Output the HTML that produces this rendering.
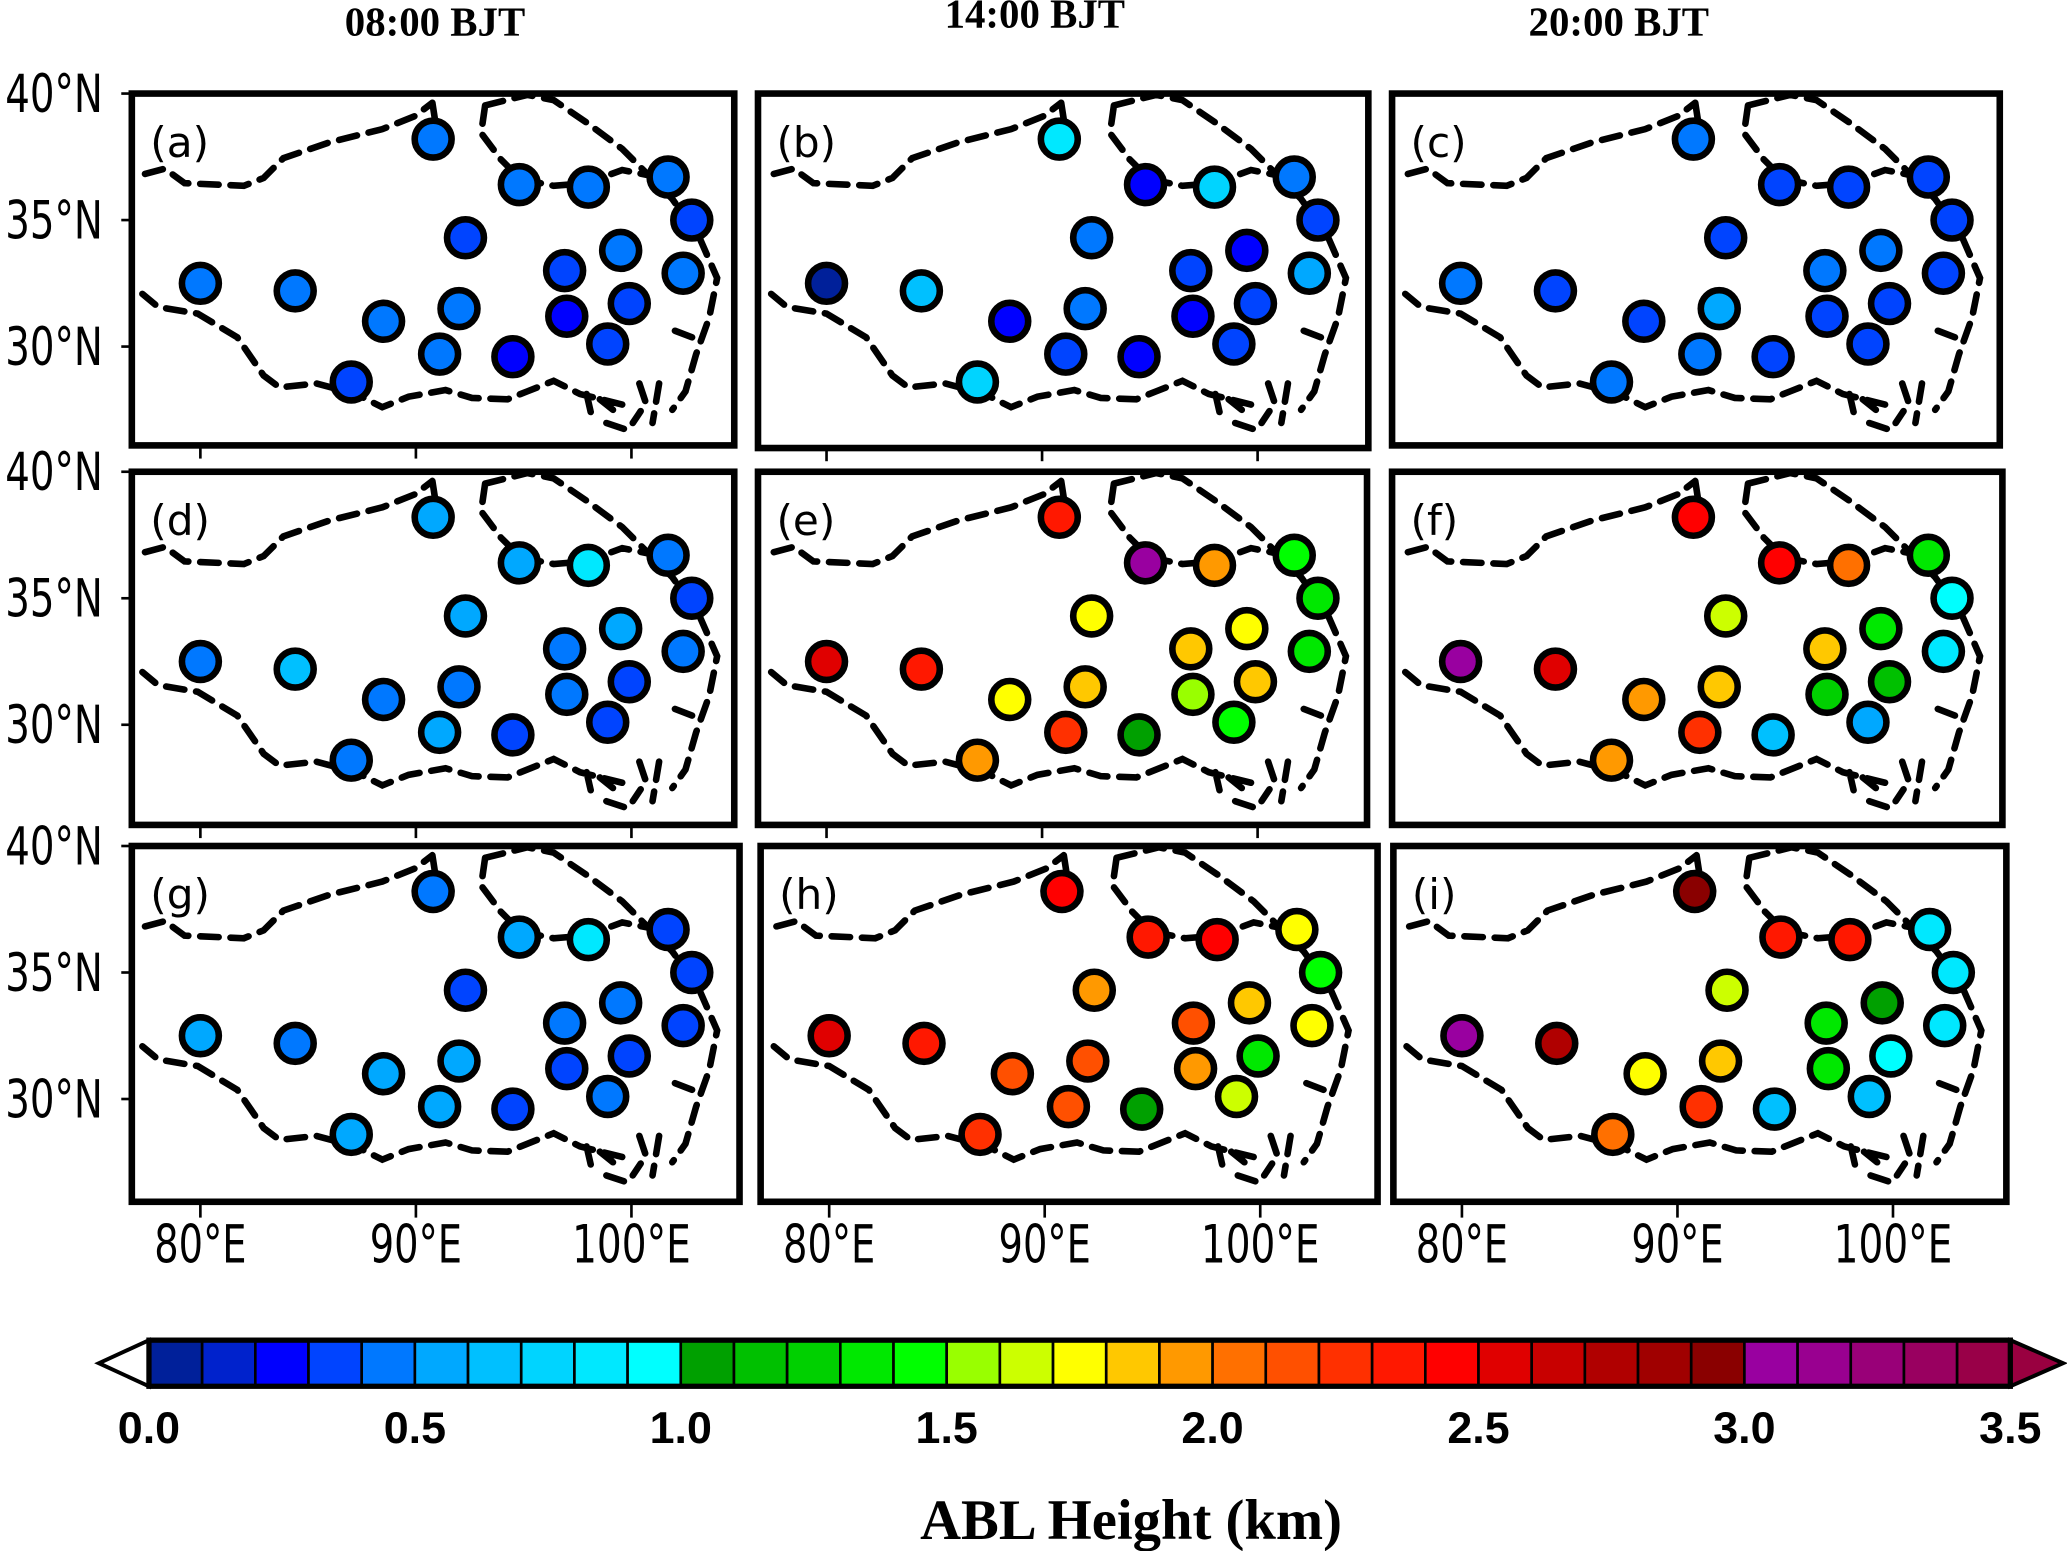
<!DOCTYPE html>
<html><head><meta charset="utf-8">
<style>
html,body{margin:0;padding:0;background:#fff;}
svg{display:block;}
.ax{font-family:"DejaVu Sans","Liberation Sans",sans-serif;font-size:40px;fill:#000;}
.ttl{font-family:"Liberation Serif",serif;font-weight:bold;font-size:31px;fill:#000;}
.pl{font-family:"DejaVu Sans","Liberation Sans","Noto Sans CJK SC",sans-serif;font-size:32px;fill:#000;}
.cbl{font-family:"Liberation Sans",sans-serif;font-weight:bold;font-size:34px;fill:#000;}
</style></head>
<body>
<svg id="fig" width="2067" height="1551" viewBox="0 0 1568 1177" preserveAspectRatio="none" xmlns="http://www.w3.org/2000/svg">
<g id="titles">
<text class="ttl" x="330" y="27" text-anchor="middle">08:00 BJT</text>
<text class="ttl" x="785" y="21" text-anchor="middle">14:00 BJT</text>
<text class="ttl" x="1228" y="27" text-anchor="middle">20:00 BJT</text>
<text x="858" y="1168" text-anchor="middle" style="font-family:'Liberation Serif',serif;font-weight:bold;font-size:43px">ABL Height (km)</text>
</g>
<g id="panels"></g>
<g id="axes"></g>
<g id="cbar"></g>
</svg>
<script>
// Station locations (lon °E, lat °N)
const stationLon = [90.8,94.8,98.0,101.7,102.8,92.3,80.0,84.4,96.9,99.5,102.4,88.5,92.0,97.0,99.9,91.1,94.5,98.9,87.0];
const stationLat = [38.2,36.4,36.3,36.7,35.0,34.3,32.5,32.2,33.0,33.8,32.9,31.0,31.5,31.2,31.7,29.7,29.6,30.1,28.6];
// ABL heights (km) per panel
const valsA = [0.45,0.45,0.45,0.45,0.35,0.35,0.45,0.45,0.35,0.45,0.45,0.45,0.45,0.25,0.35,0.45,0.25,0.35,0.35];
const valsB = [0.85,0.25,0.75,0.45,0.35,0.45,0.05,0.65,0.35,0.25,0.55,0.25,0.45,0.25,0.35,0.35,0.25,0.35,0.75];
const valsC = [0.45,0.35,0.35,0.35,0.35,0.35,0.45,0.35,0.45,0.45,0.35,0.35,0.55,0.35,0.35,0.45,0.35,0.35,0.45];
const valsD = [0.55,0.55,0.85,0.45,0.35,0.55,0.45,0.65,0.45,0.55,0.45,0.45,0.45,0.45,0.35,0.55,0.35,0.35,0.45];
const valsE = [2.35,3.05,1.95,1.45,1.35,1.75,2.55,2.35,1.85,1.75,1.35,1.75,1.85,1.55,1.85,2.25,1.05,1.45,1.95];
const valsF = [2.45,2.45,2.05,1.35,0.95,1.65,3.05,2.55,1.85,1.35,0.85,1.95,1.85,1.25,1.15,2.25,0.65,0.55,1.95];
const valsG = [0.45,0.55,0.85,0.35,0.35,0.35,0.55,0.45,0.45,0.45,0.35,0.55,0.55,0.35,0.35,0.55,0.35,0.45,0.55];
const valsH = [2.45,2.35,2.45,1.75,1.45,1.95,2.55,2.35,2.15,1.85,1.75,2.15,2.15,1.95,1.35,2.15,1.05,1.65,2.25];
const valsI = [2.95,2.35,2.35,0.85,0.85,1.65,3.05,2.75,1.35,1.05,0.85,1.75,1.85,1.35,0.95,2.25,0.65,0.65,2.05];
const panelLabels = ["a","b","c","d","e","f","g","h","i"];
const lonTicks = [80,90,100];
const latTicks = [40,35,30];
const cbarTicks = ["0.0","0.5","1.0","1.5","2.0","2.5","3.0","3.5"];
const cbarColors = ["#00209a","#0022cc","#0000ff","#0044ff","#0078ff","#00a8ff","#00c0ff","#00d4ff","#00e8ff","#00ffff",
"#00a000","#00c000","#00d000","#00e800","#00ff00","#99ff00","#ccff00","#ffff00","#ffc800","#ff9900",
"#ff7000","#ff5000","#ff3000","#ff1800","#ff0000","#e00000","#c80000","#b00000","#a00000","#8a0000",
"#9900a0","#990090","#990078","#990060","#990048"];
const cbarMin = 0, cbarStep = 0.1;

const NS="http://www.w3.org/2000/svg";
function mk(tag, attrs, parent){const e=document.createElementNS(NS,tag);for(const k in attrs)e.setAttribute(k,attrs[k]);parent.appendChild(e);return e;}
function colorOf(v){let i=Math.floor((v-cbarMin)/cbarStep);if(i<0)i=0;if(i>=cbarColors.length)i=cbarColors.length-1;return cbarColors[i];}

const allVals=[valsA,valsB,valsC,valsD,valsE,valsF,valsG,valsH,valsI];
const panelBox=[[100,71,457,267],[575,71,463,269],[1056,71,461,267],[100,358,457,268],[575,358,462,268],[1056,358,463,268],[100,642,461,270],[577,642,468,270],[1057,642,465,270]];
const lonScale=16.35, latScale=19.2;
function xOf(ox,lon){return ox+52+(lon-80)*lonScale;}
function yOf(oy,lat){return oy+(40-lat)*latScale;}

const outline="M10,61 L25,57 L40,68 L85,70 L100,64 L115,49 L150,37 L190,27 L215,17 L228,7 M268,9 L300,1 L320,5 L345,22 L372,42 L392,62 L410,80 L430,108 L444,140 L438,170 L428,198 L420,226 L410,240 M372,236 L340,228 L320,218 L300,226 L285,232 L258,231 L238,225 L210,230 L190,238 L170,228 L140,220 L112,223 L100,214 L80,185 L50,167 L20,162 L8,152 M268,9 L265,30 L280,50 L295,65 L320,70 L345,68 L372,58 L392,62 M228,7 L230,20 M345,228 L350,250 M355,232 L365,240 M360,250 L375,255 M385,220 L390,235 L380,250 M400,220 L395,250 M412,180 L425,185";

const panels=document.getElementById('panels');
allVals.forEach((vals,p)=>{
  const [ox,oy,w,h]=panelBox[p];
  const g=mk('g',{},panels);
  
  
  const r=mk('rect',{x:ox,y:oy,width:w,height:h,fill:'#fff',stroke:'#000','stroke-width':5},g);
  
  
  const pa=mk('path',{d:outline,transform:`translate(${ox+(p%3===0?0:2)},${oy})`,fill:'none',stroke:'#000','stroke-width':5,'stroke-dasharray':'14,9','stroke-linecap':'round'},g);
  
  
  const t=mk('text',{x:ox+14,y:oy+48,class:'pl'},g);
  t.textContent='('+panelLabels[p]+')';
  
  
  vals.forEach((v,i)=>{
    const c=mk('circle',{cx:xOf(ox,stationLon[i]),cy:yOf(oy,stationLat[i]),r:14,fill:colorOf(v),stroke:'#000','stroke-width':5},g);
    
    
  });
});

const axes=document.getElementById('axes');
[0,3,6].forEach(p=>{
  const oy=panelBox[p][1];
  latTicks.forEach(lat=>{
    const y=yOf(oy,lat);
    const tk=mk('line',{x1:92,x2:100,y1:y,y2:y,stroke:'#000','stroke-width':2},axes);
    
    
    const t=mk('text',{x:4,y:y+14,class:'ax',textLength:74,lengthAdjust:'spacingAndGlyphs'},axes);
    t.textContent=lat+'°N';
    
    
  });
});
[6,7,8].forEach(p=>{
  const [ox,oy,w,h]=panelBox[p];
  lonTicks.forEach(lon=>{
    const x=xOf(ox,lon);
    const tk=mk('line',{x1:x,x2:x,y1:oy+h,y2:oy+h+12,stroke:'#000','stroke-width':2},axes);
    
    
    const t=mk('text',{x:x,y:958,class:'ax','text-anchor':'middle',textLength:lon>=100?90:70,lengthAdjust:'spacingAndGlyphs'},axes);
    t.textContent=lon+'°E';
    
    
  });
});
[0,1,3,4].forEach(p=>{
  const [ox,oy,w,h]=panelBox[p];
  lonTicks.forEach(lon=>{const x=xOf(ox,lon);mk('line',{x1:x,x2:x,y1:oy+h,y2:oy+h+10,stroke:'#000','stroke-width':2},axes);});
});

const cb=document.getElementById('cbar');
const cx0=113,cx1=1525,cy0=1017,cy1=1052,n=cbarColors.length,bw=(cx1-cx0)/n;
const lt=mk('polygon',{points:`${cx0},${cy0} ${cx0},${cy1} 75,${(cy0+cy1)/2}`,fill:'#fff',stroke:'#000','stroke-width':3},cb);


const rt=mk('polygon',{points:`${cx1},${cy0} ${cx1},${cy1} 1565,${(cy0+cy1)/2}`,fill:'#990040',stroke:'#000','stroke-width':3},cb);


cbarColors.forEach((c,i)=>{
  const r=mk('rect',{x:cx0+i*bw,y:cy0,width:bw,height:cy1-cy0,fill:c,stroke:'#000','stroke-width':2},cb);
  
  
});
mk('rect',{x:cx0,y:cy0,width:cx1-cx0,height:cy1-cy0,fill:'none',stroke:'#000','stroke-width':4},cb);
cbarTicks.forEach((s,i)=>{
  const x=cx0+(parseFloat(s)-cbarMin)/cbarStep*bw;
  const t=mk('text',{x:x,y:1095,class:'cbl','text-anchor':'middle'},cb);
  t.textContent=s;
  
  
});
</script>
</body></html>
